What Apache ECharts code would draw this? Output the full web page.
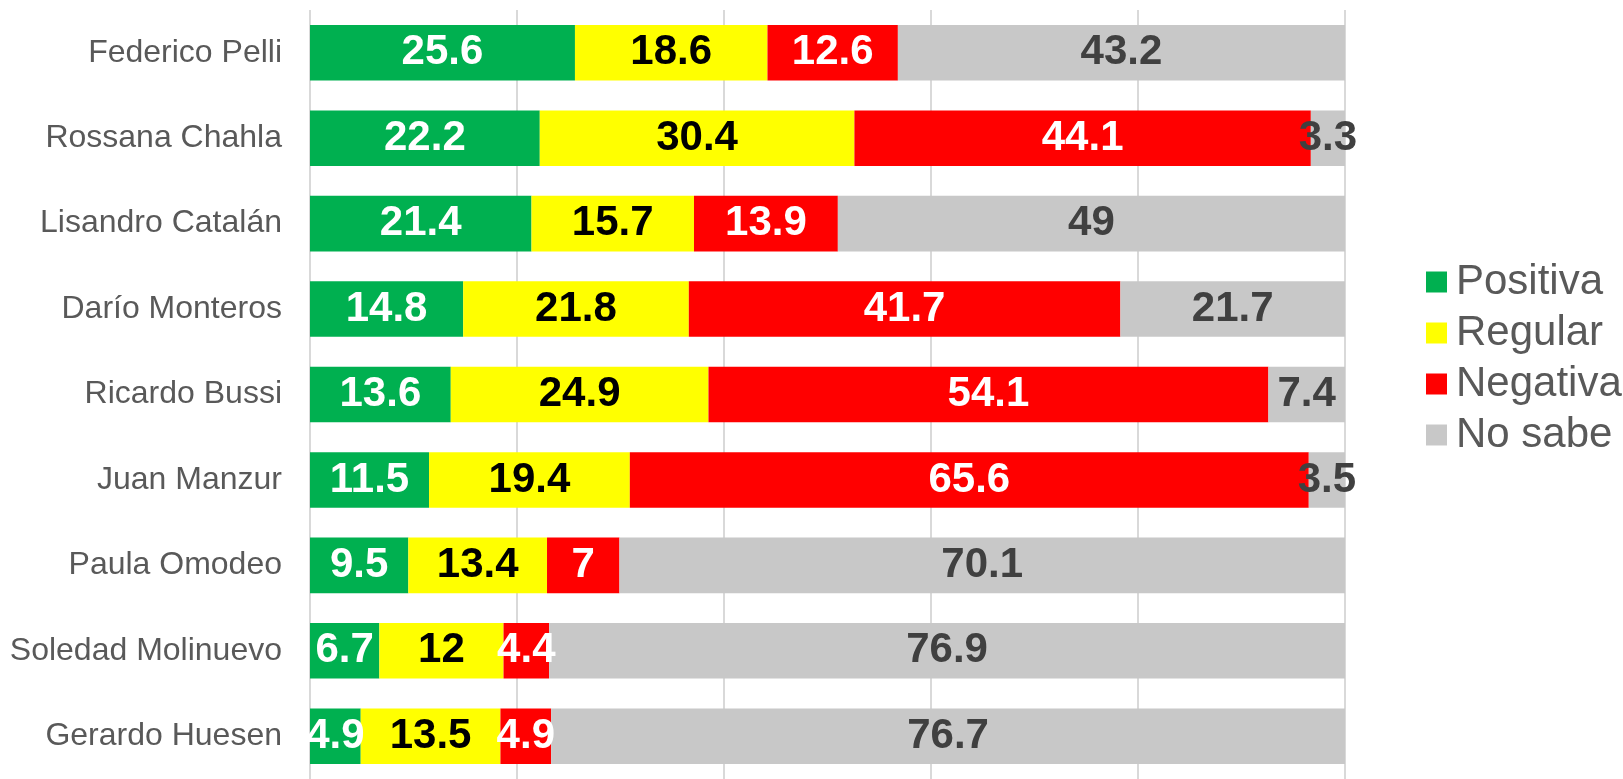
<!DOCTYPE html>
<html>
<head>
<meta charset="utf-8">
<title>Imagen de dirigentes</title>
<script src="https://cdn.jsdelivr.net/npm/echarts@6/dist/echarts.min.js"></script>
<style>
  html, body { margin: 0; padding: 0; background: #fff; }
  #chart { width: 1623px; height: 779px; }
</style>
</head>
<body>
<div id="chart"></div>
<script>
// datos
const names = ['Federico Pelli', 'Rossana Chahla', 'Lisandro Catalán', 'Darío Monteros', 'Ricardo Bussi',
  'Juan Manzur', 'Paula Omodeo', 'Soledad Molinuevo', 'Gerardo Huesen']
const positiva = [25.6, 22.2, 21.4, 14.8, 13.6, 11.5, 9.5, 6.7, 4.9]
const regular = [18.6, 30.4, 15.7, 21.8, 24.9, 19.4, 13.4, 12, 13.5]
const negativa = [12.6, 44.1, 13.9, 41.7, 54.1, 65.6, 7, 4.4, 4.9]
const noSabe = [43.2, 3.3, 49, 21.7, 7.4, 3.5, 70.1, 76.9, 76.7]

const font = '"Liberation Sans", Arial, sans-serif'

function serie(name, data, color, labelColor) {
  return {
    name: name,
    type: 'bar',
    stack: 'total',
    barCategoryGap: '35%',
    data: data,
    itemStyle: { color: color },
    label: {
      show: true,
      position: 'inside',
      color: labelColor,
      fontFamily: font,
      fontWeight: 'bold',
      fontSize: 42
    }
  }
}

const chart = echarts.init(document.getElementById('chart'))
const option = {
  animation: false,
  grid: { left: 310, right: 278, top: 10, height: 773 },
  legend: {
    orient: 'vertical',
    left: 1421,
    top: 256,
    itemWidth: 21,
    itemHeight: 21,
    itemGap: 9,
    icon: 'rect',
    textStyle: { color: '#595959', fontFamily: font, fontSize: 42, lineHeight: 42, padding: [0, 0, 0, 4] },
    data: ['Positiva', 'Regular', 'Negativa', 'No sabe']
  },
  xAxis: {
    type: 'value',
    min: 0,
    max: 100,
    interval: 20,
    axisLabel: { show: false },
    axisLine: { show: false },
    axisTick: { show: false },
    splitLine: { lineStyle: { color: '#d9d9d9', width: 2 } }
  },
  yAxis: {
    type: 'category',
    inverse: true,
    data: names,
    axisLine: { show: false },
    axisTick: { show: false },
    axisLabel: { color: '#595959', fontFamily: font, fontSize: 32, margin: 28 }
  },
  series: [
    serie('Positiva', positiva, '#00b050', '#ffffff'),
    serie('Regular', regular, '#ffff00', '#000000'),
    serie('Negativa', negativa, '#ff0000', '#ffffff'),
    serie('No sabe', noSabe, '#c8c8c8', '#404040')
  ]
}
chart.setOption(option)
</script>
</body>
</html>
